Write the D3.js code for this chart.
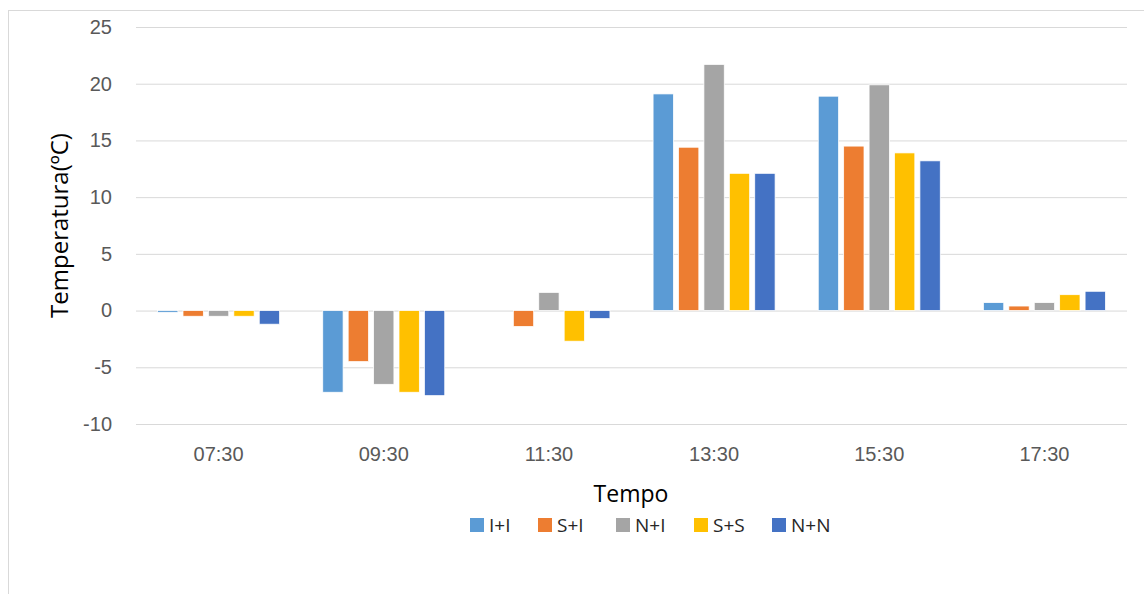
<!DOCTYPE html>
<html>
<head>
<meta charset="utf-8">
<script src="https://cdn.jsdelivr.net/npm/d3@7"></script>
<style>
  html, body { margin: 0; padding: 0; background: #fff; }
  svg { display: block; font-family: "Open Sans", "Noto Sans", sans-serif; }
</style>
</head>
<body>
<svg id="chart" width="1144" height="594"></svg>
<script>
// Time slots along the x axis
const categories = ["07:30", "09:30", "11:30", "13:30", "15:30", "17:30"];
// Series names and their values (ºC)
const seriesNames = ["I+I", "S+I", "N+I", "S+S", "N+N"];
const valuesII = [-0.15, -7.2, 0, 19.1, 18.9, 0.7];
const valuesSI = [-0.5, -4.5, -1.4, 14.4, 14.5, 0.4];
const valuesNI = [-0.5, -6.5, 1.6, 21.7, 19.9, 0.7];
const valuesSS = [-0.5, -7.2, -2.7, 12.1, 13.9, 1.4];
const valuesNN = [-1.2, -7.5, -0.7, 12.1, 13.2, 1.7];
const yTicks = [-10, -5, 0, 5, 10, 15, 20, 25];

const seriesValues = [valuesII, valuesSI, valuesNI, valuesSS, valuesNN];
const colors = ["#5B9BD5", "#ED7D31", "#A5A5A5", "#FFC000", "#4472C4"];

const svg = d3.select("#chart");
const plot = { left: 136, right: 1127, top: 27, bottom: 424 };

// Outer chart frame
svg.append("rect")
  .attr("x", 8.5).attr("y", 10.5)
  .attr("width", 1160).attr("height", 600)
  .attr("fill", "none").attr("stroke", "#D9D9D9").attr("stroke-width", 1);

const x0 = d3.scaleBand().domain(categories).range([plot.left, plot.right]).padding(0);
const y = d3.scaleLinear().domain([-10, 25]).range([plot.bottom, plot.top]);

// Inner band for the five bars of a slot
const groupWidth = 122;
const x1 = d3.scaleBand().domain(seriesNames)
  .range([0, groupWidth]).paddingInner(0.2).paddingOuter(0);

// Gridlines and value labels
const yAxis = d3.axisLeft(y).tickValues(yTicks)
  .tickSize(-(plot.right - plot.left)).tickPadding(24)
  .tickFormat(d => String(d));
const gy = svg.append("g").attr("transform", `translate(${plot.left},0)`).call(yAxis);
gy.select(".domain").remove();
gy.selectAll(".tick line").attr("stroke", "#D9D9D9").attr("stroke-width", 1);
gy.selectAll(".tick text").attr("fill", "#595959").style("font-size", "20px");

// Bars
const groups = svg.append("g").selectAll("g")
  .data(categories)
  .join("g")
  .attr("transform", d => `translate(${x0(d) + (x0.bandwidth() - groupWidth) / 2},0)`);

groups.selectAll("rect")
  .data((c, i) => seriesNames.map((s, j) => ({ s, v: seriesValues[j][i], color: colors[j] })))
  .join("rect")
  .attr("x", d => x1(d.s))
  .attr("width", x1.bandwidth())
  .attr("y", d => y(Math.max(0, d.v)))
  .attr("height", d => Math.abs(y(d.v) - y(0)))
  .attr("fill", d => d.color)
  .attr("stroke", "#fff")
  .attr("stroke-width", 0.75);

// Time labels
const xAxis = d3.axisBottom(x0).tickSize(0).tickPadding(23);
const gx = svg.append("g").attr("transform", `translate(0,${plot.bottom})`).call(xAxis);
gx.select(".domain").remove();
gx.selectAll(".tick text").attr("fill", "#595959").style("font-size", "20px");

// Axis titles
svg.append("text")
  .attr("transform", `translate(68,${(plot.top + plot.bottom) / 2}) rotate(-90)`)
  .attr("text-anchor", "middle")
  .attr("fill", "#000")
  .style("font-size", "24px")
  .text("Temperatura(ºC)");

svg.append("text")
  .attr("x", 631).attr("y", 502)
  .attr("text-anchor", "middle")
  .attr("fill", "#000")
  .style("font-size", "23px")
  .text("Tempo");

// Legend
const legendX = [470, 538, 616, 694, 772];
const legend = svg.append("g").selectAll("g")
  .data(seriesNames)
  .join("g")
  .attr("transform", (d, i) => `translate(${legendX[i]},518)`);
legend.append("rect").attr("width", 14).attr("height", 14).attr("fill", (d, i) => colors[i]);
legend.append("text")
  .attr("x", 19).attr("y", 14)
  .attr("fill", "#262626")
  .style("font-size", "19px")
  .text(d => d);
</script>
</body>
</html>
